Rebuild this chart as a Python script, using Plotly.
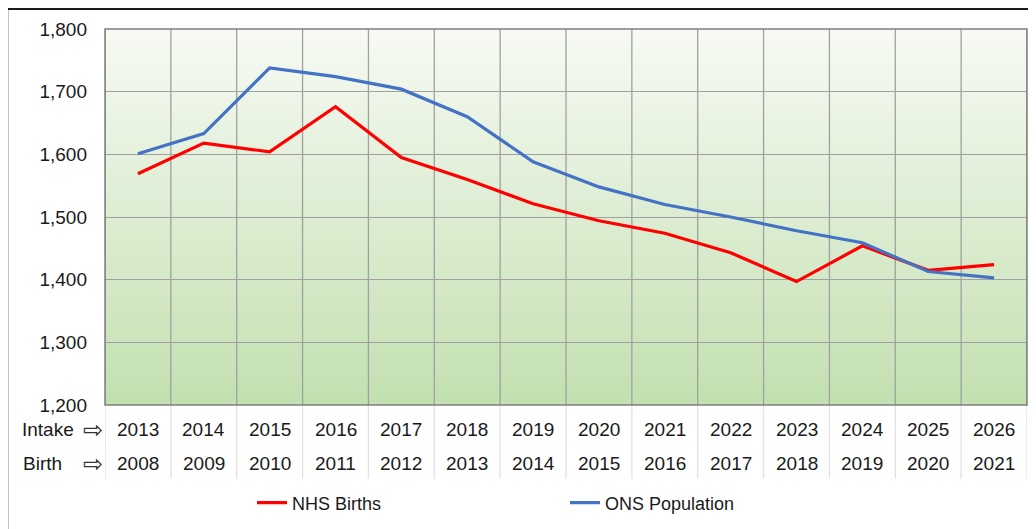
import plotly.graph_objects as go

intake_years = ["2013", "2014", "2015", "2016", "2017", "2018", "2019",
                "2020", "2021", "2022", "2023", "2024", "2025", "2026"]
birth_years = ["2008", "2009", "2010", "2011", "2012", "2013", "2014",
               "2015", "2016", "2017", "2018", "2019", "2020", "2021"]
nhs_births = [1569, 1618, 1604, 1676, 1595, 1560, 1521,
              1494, 1474, 1443, 1397, 1454, 1415, 1424]
ons_population = [1601, 1633, 1738, 1724, 1704, 1660, 1588,
                  1548, 1520, 1500, 1478, 1459, 1413, 1403]
y_ticks = [1200, 1300, 1400, 1500, 1600, 1700, 1800]

FONT = "Liberation Sans, Arial, sans-serif"
TXT = "#1a1a1a"
n = len(intake_years)
xs = list(range(n))

fig = go.Figure()
fig.add_trace(go.Scatter(x=xs, y=nhs_births, mode="lines", name="NHS Births",
                         line=dict(color="#ff0000", width=3.2), legend="legend",
                         showlegend=True))
fig.add_trace(go.Scatter(x=xs, y=ons_population, mode="lines", name="ONS Population",
                         line=dict(color="#4472c4", width=3.2), legend="legend2",
                         showlegend=True))

shapes = []
# gradient background
top = (247, 250, 244)
bot = (194, 224, 176)
N = 80
for i in range(N):
    t = (i + 0.5) / N
    c = tuple(round(top[k] + (bot[k] - top[k]) * t) for k in range(3))
    shapes.append(dict(type="rect", xref="x domain", yref="y domain",
                       x0=0, x1=1, y0=1 - (i + 1) / N, y1=1 - i / N + 0.002,
                       fillcolor="rgb(%d,%d,%d)" % c, line=dict(width=0), layer="below"))
# vertical category boundaries
for i in range(n + 1):
    shapes.append(dict(type="line", xref="x", yref="y domain", x0=i - 0.5, x1=i - 0.5,
                       y0=0, y1=1, line=dict(color="#a0a0a0", width=1.3), layer="below"))
    shapes.append(dict(type="line", xref="x", yref="paper", x0=i - 0.5, x1=i - 0.5,
                       y0=-0.196, y1=0, line=dict(color="#e2e2e2", width=1.3), layer="below"))
# plot border
shapes.append(dict(type="rect", xref="paper", yref="paper", x0=0, x1=1, y0=0, y1=1,
                   line=dict(color="#7f7f7f", width=1.5)))
# outer chart frame
shapes.append(dict(type="rect", xref="paper", yref="paper", x0=-0.106, x1=1.03,
                   y0=-0.6, y1=1.053, line=dict(color="#1a1a1a", width=2)))

annotations = []
for i in range(n):
    annotations.append(dict(x=i, xref="x", y=-0.0663, yref="paper", text=intake_years[i],
                            showarrow=False, yanchor="middle",
                            font=dict(family=FONT, size=19, color=TXT)))
    annotations.append(dict(x=i, xref="x", y=-0.1565, yref="paper", text=birth_years[i],
                            showarrow=False, yanchor="middle",
                            font=dict(family=FONT, size=19, color=TXT)))
for label, yv, xl in [("Intake", -0.0663, -0.031), ("Birth", -0.1565, -0.045)]:
    annotations.append(dict(x=xl, xref="paper", y=yv, yref="paper", text=label,
                            showarrow=False, xanchor="right", yanchor="middle",
                            font=dict(family=FONT, size=19, color=TXT)))
    annotations.append(dict(x=0.0, xref="paper", y=yv, yref="paper", text="⇨",
                            showarrow=False, xanchor="right", yanchor="middle",
                            font=dict(family="DejaVu Sans", size=24, color="#333333")))

fig.update_layout(
    width=1028, height=521,
    margin=dict(l=97, r=9, t=21, b=123),
    paper_bgcolor="white",
    plot_bgcolor="rgba(0,0,0,0)",
    showlegend=True,
    font=dict(family=FONT, size=18, color=TXT),
    shapes=shapes,
    annotations=annotations,
    xaxis=dict(range=[-0.5, n - 0.5], showticklabels=False, showgrid=False,
               zeroline=False, fixedrange=True),
    yaxis=dict(range=[1200, 1800], tickvals=y_ticks, tickformat=",d",
               showgrid=True, gridcolor="#a0a0a0", gridwidth=1.3, zeroline=False,
               ticklabelstandoff=17, tickfont=dict(family=FONT, size=19, color=TXT)),
    legend=dict(x=(252 - 105) / 922, y=-0.257, xanchor="left", yanchor="middle",
                bgcolor="rgba(0,0,0,0)", font=dict(family=FONT, size=18, color=TXT)),
    legend2=dict(x=(565 - 105) / 922, y=-0.257, xanchor="left", yanchor="middle",
                 bgcolor="rgba(0,0,0,0)", font=dict(family=FONT, size=18, color=TXT)),
)

fig.write_html("out.html")
